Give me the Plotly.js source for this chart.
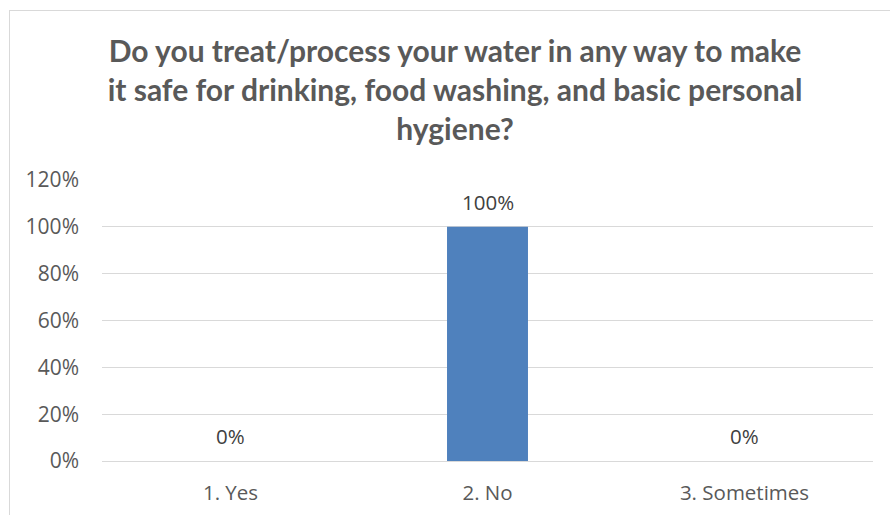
<!DOCTYPE html>
<html>
<head>
<meta charset="utf-8">
<script src="https://cdn.plot.ly/plotly-3.0.1.min.js"></script>
<style>
html,body{margin:0;padding:0;background:#fff;}
#wrap{position:relative;width:890px;height:515px;overflow:hidden;}
#chart{position:absolute;left:0;top:0;width:890px;height:515px;}
#frame{position:absolute;left:9px;top:10px;width:900px;height:600px;border:1px solid #d9d9d9;pointer-events:none;}
</style>
</head>
<body>
<div id="wrap"><div id="chart"></div><div id="frame"></div></div>
<script>
const categories = ["1. Yes", "2. No", "3. Sometimes"];
const values = [0, 1, 0];
const labels = ["0%", "100%", "0%"];
const yTickVals = [0, 0.2, 0.4, 0.6, 0.8, 1.0, 1.2];
const yTickText = ["0%", "20%", "40%", "60%", "80%", "100%", "120%"];
const titleText = "Do you treat/process your water in any way to make<br>it safe for drinking, food washing, and basic personal<br>hygiene?";

const font = "Open Sans, Liberation Sans, sans-serif";
const titleFont = "Lato, Open Sans, sans-serif";
const grey = "#595959";

const annotations = categories.map((c, i) => ({
  x: c, y: values[i], xref: "x", yref: "y",
  text: labels[i], showarrow: false,
  xanchor: "center", yanchor: "bottom", yshift: 9,
  font: {family: font, size: 20.5, color: "#404040"}
}));

Plotly.newPlot("chart", [{
  type: "bar",
  x: categories,
  y: values,
  marker: {color: "#4f81bd"},
  hoverinfo: "none"
}], {
  width: 890,
  height: 515,
  margin: {l: 102, r: 17, t: 180, b: 54, pad: 0},
  paper_bgcolor: "rgba(0,0,0,0)",
  plot_bgcolor: "rgba(0,0,0,0)",
  bargap: 0.685,
  showlegend: false,
  annotations: annotations,
  title: {
    text: titleText,
    font: {family: titleFont, size: 30, color: grey, weight: "bold"},
    x: 455/890, xanchor: "center",
    y: 1 - 61.5/515, yanchor: "top",
    yref: "container"
  },
  xaxis: {
    type: "category",
    showgrid: false,
    showline: false,
    zeroline: false,
    ticks: "",
    tickfont: {family: font, size: 20.5, color: grey},
    ticklabelstandoff: 17
  },
  yaxis: {
    range: [0, 1.2],
    tickvals: yTickVals,
    ticktext: yTickText,
    showgrid: true,
    gridcolor: "#d9d9d9",
    gridwidth: 1,
    zeroline: true,
    zerolinecolor: "#d9d9d9",
    zerolinewidth: 1,
    showline: false,
    ticks: "",
    tickfont: {family: font, size: 21, color: grey},
    ticklabelstandoff: 22
  }
}, {displayModeBar: false, staticPlot: true});
</script>
</body>
</html>
